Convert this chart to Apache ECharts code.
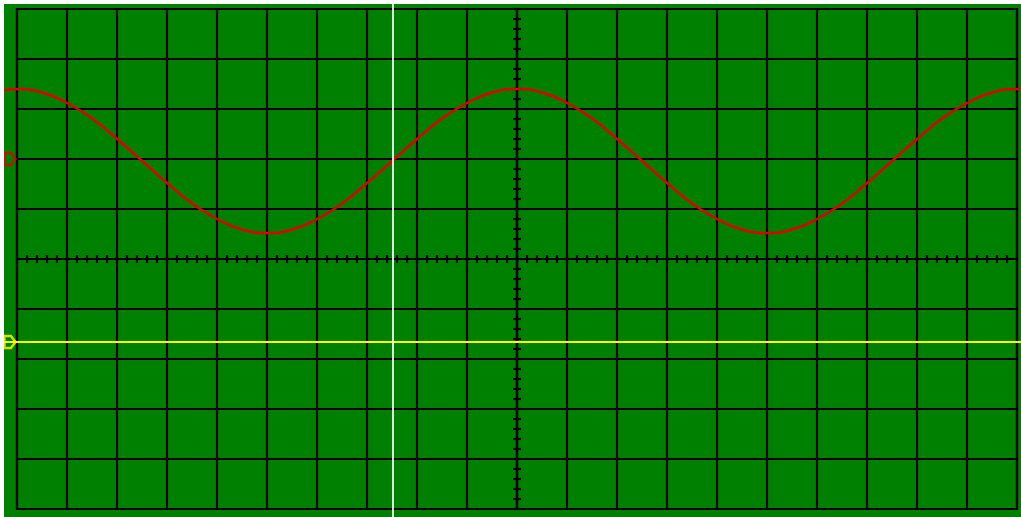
<!DOCTYPE html>
<html>
<head>
<meta charset="utf-8">
<script src="https://cdn.jsdelivr.net/npm/echarts@6/dist/echarts.min.js"></script>
<style>
  html, body { margin: 0; padding: 0; background: #fff; }
  #scope { position: absolute; left: 4px; top: 4px; width: 1017px; height: 513px; background: #008000; }
</style>
</head>
<body>
<div id="scope"></div>
<script>
// units: divisions, origin at screen centre
const ch1Time = [-10.26, -10, -9.5, -9, -8.5, -8, -7.5, -7, -6.5, -6, -5.5, -5, -4.5, -4, -3.5, -3, -2.5, -2, -1.5, -1, -0.5,
  0, 0.5, 1, 1.5, 2, 2.5, 3, 3.5, 4, 4.5, 5, 5.5, 6, 6.5, 7, 7.5, 8, 8.5, 9, 9.5, 10, 10.08];
const ch1Volt = [3.38, 3.40, 3.33, 3.12, 2.81, 2.40, 1.96, 1.52, 1.11, 0.80, 0.59, 0.52, 0.59, 0.80, 1.11, 1.52, 1.96, 2.40, 2.81, 3.12, 3.33,
  3.40, 3.33, 3.12, 2.81, 2.40, 1.96, 1.52, 1.11, 0.80, 0.59, 0.52, 0.59, 0.80, 1.11, 1.52, 1.96, 2.40, 2.81, 3.12, 3.33, 3.40, 3.40];
const ch1Level = 2;
const ch2Level = -1.66;
const cursorTime = -2.48;

const red = '#e00000';
const yellow = '#ffff00';

let myChart = echarts.init(document.getElementById('scope'));

const blk = { color: '#000', width: 2.2 };
function scaleAxis(pos, range, gridIndex, split) {
  return {
    gridIndex: gridIndex,
    type: 'value',
    position: pos,
    min: -range, max: range, interval: 1,
    axisLine: { show: true, onZero: true, lineStyle: blk },
    axisTick: { show: true, length: 4, lineStyle: blk },
    minorTick: { show: true, splitNumber: 5, length: 4, lineStyle: blk },
    axisLabel: { show: false },
    splitLine: { show: split, lineStyle: blk },
    minorSplitLine: { show: false }
  };
}

const ch1Data = ch1Time.map((t, i) => [t, ch1Volt[i]]);
const markerPath = 'path://M0,0 L7,0 L12,6 L7,12 L0,12 Z';

let option = {
  animation: false,
  grid: [
    { left: 13, top: 5, width: 1000, height: 500, show: true, borderColor: '#000', borderWidth: 2.2, outerBoundsMode: 'none' },
    { left: 13, top: 5, width: 1000, height: 500, outerBoundsMode: 'none' },
    { left: 0, top: 0, right: 0, bottom: 0, outerBoundsMode: 'none' }
  ],
  xAxis: [
    scaleAxis('bottom', 10, 0, true),
    scaleAxis('top', 10, 1, false),
    { gridIndex: 2, type: 'value', min: -10.26, max: 10.08, show: false }
  ],
  yAxis: [
    scaleAxis('left', 5, 0, true),
    scaleAxis('right', 5, 1, false),
    { gridIndex: 2, type: 'value', min: -5.16, max: 5.1, show: false }
  ],
  series: [
    {
      name: 'CH2',
      type: 'line',
      xAxisIndex: 2, yAxisIndex: 2,
      data: [],
      markLine: {
        silent: true,
        symbol: 'none',
        label: { show: false },
        lineStyle: { color: yellow, width: 2, type: 'solid' },
        data: [{ yAxis: ch2Level }]
      }
    },
    {
      name: 'CH1',
      type: 'line',
      xAxisIndex: 2, yAxisIndex: 2,
      data: ch1Data,
      smooth: true,
      showSymbol: false,
      lineStyle: { color: red, width: 2.5 },
      markLine: {
        silent: true,
        symbol: 'none',
        label: { show: false },
        lineStyle: { color: 'rgba(255,255,255,0.85)', width: 2, type: 'solid' },
        data: [{ xAxis: cursorTime }]
      }
    },
    {
      name: 'markers',
      type: 'scatter',
      xAxisIndex: 0, yAxisIndex: 0,
      symbol: markerPath,
      symbolSize: [11, 12],
      symbolOffset: [-7, 0],
      z: 5,
      data: [
        { value: [-10, ch1Level], itemStyle: { color: 'rgba(0,0,0,0)', borderColor: red, borderWidth: 2.5 } },
        { value: [-10, ch2Level], itemStyle: { color: 'rgba(0,0,0,0)', borderColor: yellow, borderWidth: 2.5 } }
      ]
    }
  ]
};
myChart.setOption(option);
</script>
</body>
</html>
